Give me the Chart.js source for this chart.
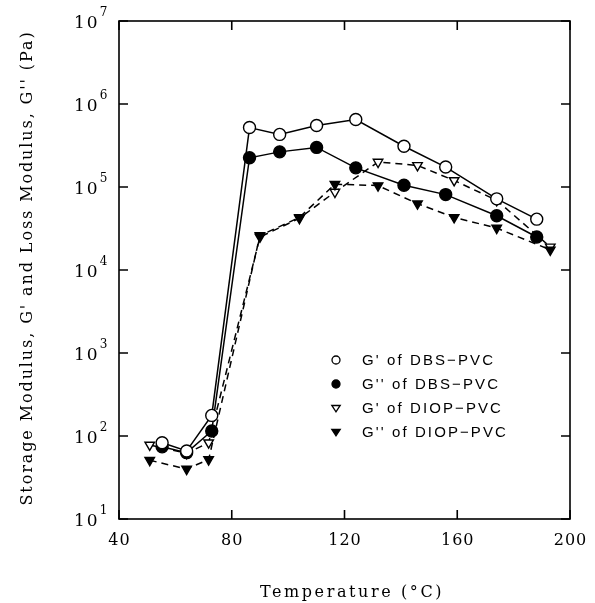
<!DOCTYPE html>
<html lang="en">
<head>
    <meta charset="utf-8"/>
    <title>Storage and loss modulus vs temperature</title>
    <script src="https://cdn.jsdelivr.net/npm/chart.js"></script>
    <style>
        body { margin: 0; background: #fff; }
        #wrap { width: 595px; height: 603px; }
    </style>
</head>
<body>
<div id="wrap"><canvas id="modulusChart" width="595" height="603"></canvas></div>
<script>
    // temperatures (°C) and moduli (Pa)
    const tempDBS  = [55.3, 64, 72.9, 86.3, 97, 110.1, 124, 141.1, 155.9, 174, 188.2];
    const gPrimeDBS  = [83, 66, 177, 520000, 430000, 550000, 650000, 310000, 174000, 72000, 41000];
    const gDoubleDBS = [74, 63, 115, 225000, 265000, 300000, 170000, 105000, 81000, 45000, 25000];

    const tempDIOP = [50.9, 64, 71.8, 90, 104, 116.6, 131.9, 145.9, 158.9, 174, 193];
    const gPrimeDIOP  = [78, 62, 83, 25000, 42000, 87000, 200000, 182000, 120000, 69000, 19000];
    const gDoubleDIOP = [51, 40, 52, 26000, 43000, 108000, 104000, 63000, 43000, 32000, 17500];

    const seriesLabels = ["G' of DBS\u2212PVC", "G'' of DBS\u2212PVC", "G' of DIOP\u2212PVC", "G'' of DIOP\u2212PVC"];
    const xTicks = [40, 80, 120, 160, 200];
    const yExponents = [1, 2, 3, 4, 5, 6, 7];

    function pairs(xs, ys) {
        return xs.map((x, i) => ({ x: x, y: ys[i] }));
    }

    const serif = '"DejaVu Serif", serif';

    // ticks, frame, labels and the legend are drawn by hand to get the journal look
    const paperAxes = {
        id: 'paperAxes',
        afterDraw(chart) {
            const ctx = chart.ctx;
            const a = chart.chartArea;
            const xs = chart.scales.x;
            const ys = chart.scales.y;
            ctx.save();
            ctx.strokeStyle = '#000';
            ctx.fillStyle = '#000';
            ctx.lineWidth = 1.6;
            ctx.strokeRect(a.left, a.top, a.right - a.left, a.bottom - a.top);

            const tl = 9;
            ctx.beginPath();
            xTicks.forEach(v => {
                const px = xs.getPixelForValue(v);
                ctx.moveTo(px, a.bottom); ctx.lineTo(px, a.bottom - tl);
                ctx.moveTo(px, a.top); ctx.lineTo(px, a.top + tl);
            });
            yExponents.forEach(e => {
                const py = ys.getPixelForValue(Math.pow(10, e));
                ctx.moveTo(a.left, py); ctx.lineTo(a.left + tl, py);
                ctx.moveTo(a.right, py); ctx.lineTo(a.right - tl, py);
            });
            ctx.stroke();

            // x tick labels
            ctx.font = '16px ' + serif;
            ctx.letterSpacing = '1px';
            ctx.textAlign = 'center';
            ctx.textBaseline = 'alphabetic';
            xTicks.forEach(v => {
                ctx.fillText(String(v), xs.getPixelForValue(v) + 0.5, 545);
            });

            // y tick labels as 10 with superscript
            ctx.textAlign = 'left';
            yExponents.forEach(e => {
                const py = ys.getPixelForValue(Math.pow(10, e));
                ctx.font = '17px ' + serif;
                ctx.letterSpacing = '2px';
                ctx.fillText('10', 74, py + 7);
                const w = ctx.measureText('10').width;
                ctx.font = '12px ' + serif;
                ctx.letterSpacing = '0px';
                ctx.fillText(String(e), 74 + w, py - 5);
            });

            // axis titles
            ctx.font = '16px ' + serif;
            ctx.letterSpacing = '2.6px';
            ctx.textAlign = 'center';
            ctx.fillText('Temperature (\u00B0C)', 352, 597);
            ctx.save();
            ctx.translate(32, 268);
            ctx.rotate(-Math.PI / 2);
            ctx.letterSpacing = '1.9px';
            ctx.fillText("Storage Modulus, G' and Loss Modulus, G'' (Pa)", 0, 0);
            ctx.restore();

            // legend
            const rows = [360, 384, 408, 432];
            ctx.font = '15px "Liberation Sans", Arial, sans-serif';
            ctx.letterSpacing = '2.1px';
            ctx.textAlign = 'left';
            ctx.textBaseline = 'middle';
            ctx.lineWidth = 1.3;
            rows.forEach((ry, i) => {
                const mx = 336;
                ctx.beginPath();
                if (i < 2) {
                    ctx.arc(mx, ry, 4, 0, Math.PI * 2);
                } else {
                    const r = 4.2;
                    ctx.moveTo(mx - r, ry - r * 0.6);
                    ctx.lineTo(mx + r, ry - r * 0.6);
                    ctx.lineTo(mx, ry + r * 0.9);
                    ctx.closePath();
                }
                ctx.fillStyle = (i % 2 === 0) ? '#fff' : '#000';
                ctx.fill();
                ctx.stroke();
                ctx.fillStyle = '#000';
                ctx.fillText(seriesLabels[i], 362, ry + 1);
            });
            ctx.restore();
        }
    };

    const lineBase = {
        showLine: true,
        borderColor: '#000',
        borderWidth: 1.5,
        pointBorderColor: '#000',
        pointBorderWidth: 1.4,
        tension: 0,
        fill: false
    };

    new Chart(document.getElementById('modulusChart'), {
        type: 'line',
        data: {
            datasets: [
                Object.assign({}, lineBase, {
                    label: seriesLabels[0],
                    data: pairs(tempDBS, gPrimeDBS),
                    order: 0,
                    pointStyle: 'circle', pointRadius: 6,
                    pointBackgroundColor: '#fff'
                }),
                Object.assign({}, lineBase, {
                    label: seriesLabels[1],
                    data: pairs(tempDBS, gDoubleDBS),
                    order: 1,
                    pointStyle: 'circle', pointRadius: 6,
                    pointBackgroundColor: '#000'
                }),
                Object.assign({}, lineBase, {
                    label: seriesLabels[2],
                    data: pairs(tempDIOP, gPrimeDIOP),
                    order: 3,
                    borderDash: [7, 5],
                    pointStyle: 'triangle', pointRotation: 180, pointRadius: 5.5,
                    pointBackgroundColor: '#fff'
                }),
                Object.assign({}, lineBase, {
                    label: seriesLabels[3],
                    data: pairs(tempDIOP, gDoubleDIOP),
                    order: 2,
                    borderDash: [7, 5],
                    pointStyle: 'triangle', pointRotation: 180, pointRadius: 5.5,
                    pointBackgroundColor: '#000'
                })
            ]
        },
        options: {
            responsive: false,
            animation: false,
            layout: { padding: { left: 119, right: 25, top: 21, bottom: 84 } },
            plugins: {
                legend: { display: false },
                tooltip: { enabled: false }
            },
            scales: {
                x: { type: 'linear', min: 40, max: 200, display: false },
                y: { type: 'logarithmic', min: 10, max: 10000000, display: false }
            }
        },
        plugins: [paperAxes]
    });
</script>
</body>
</html>
